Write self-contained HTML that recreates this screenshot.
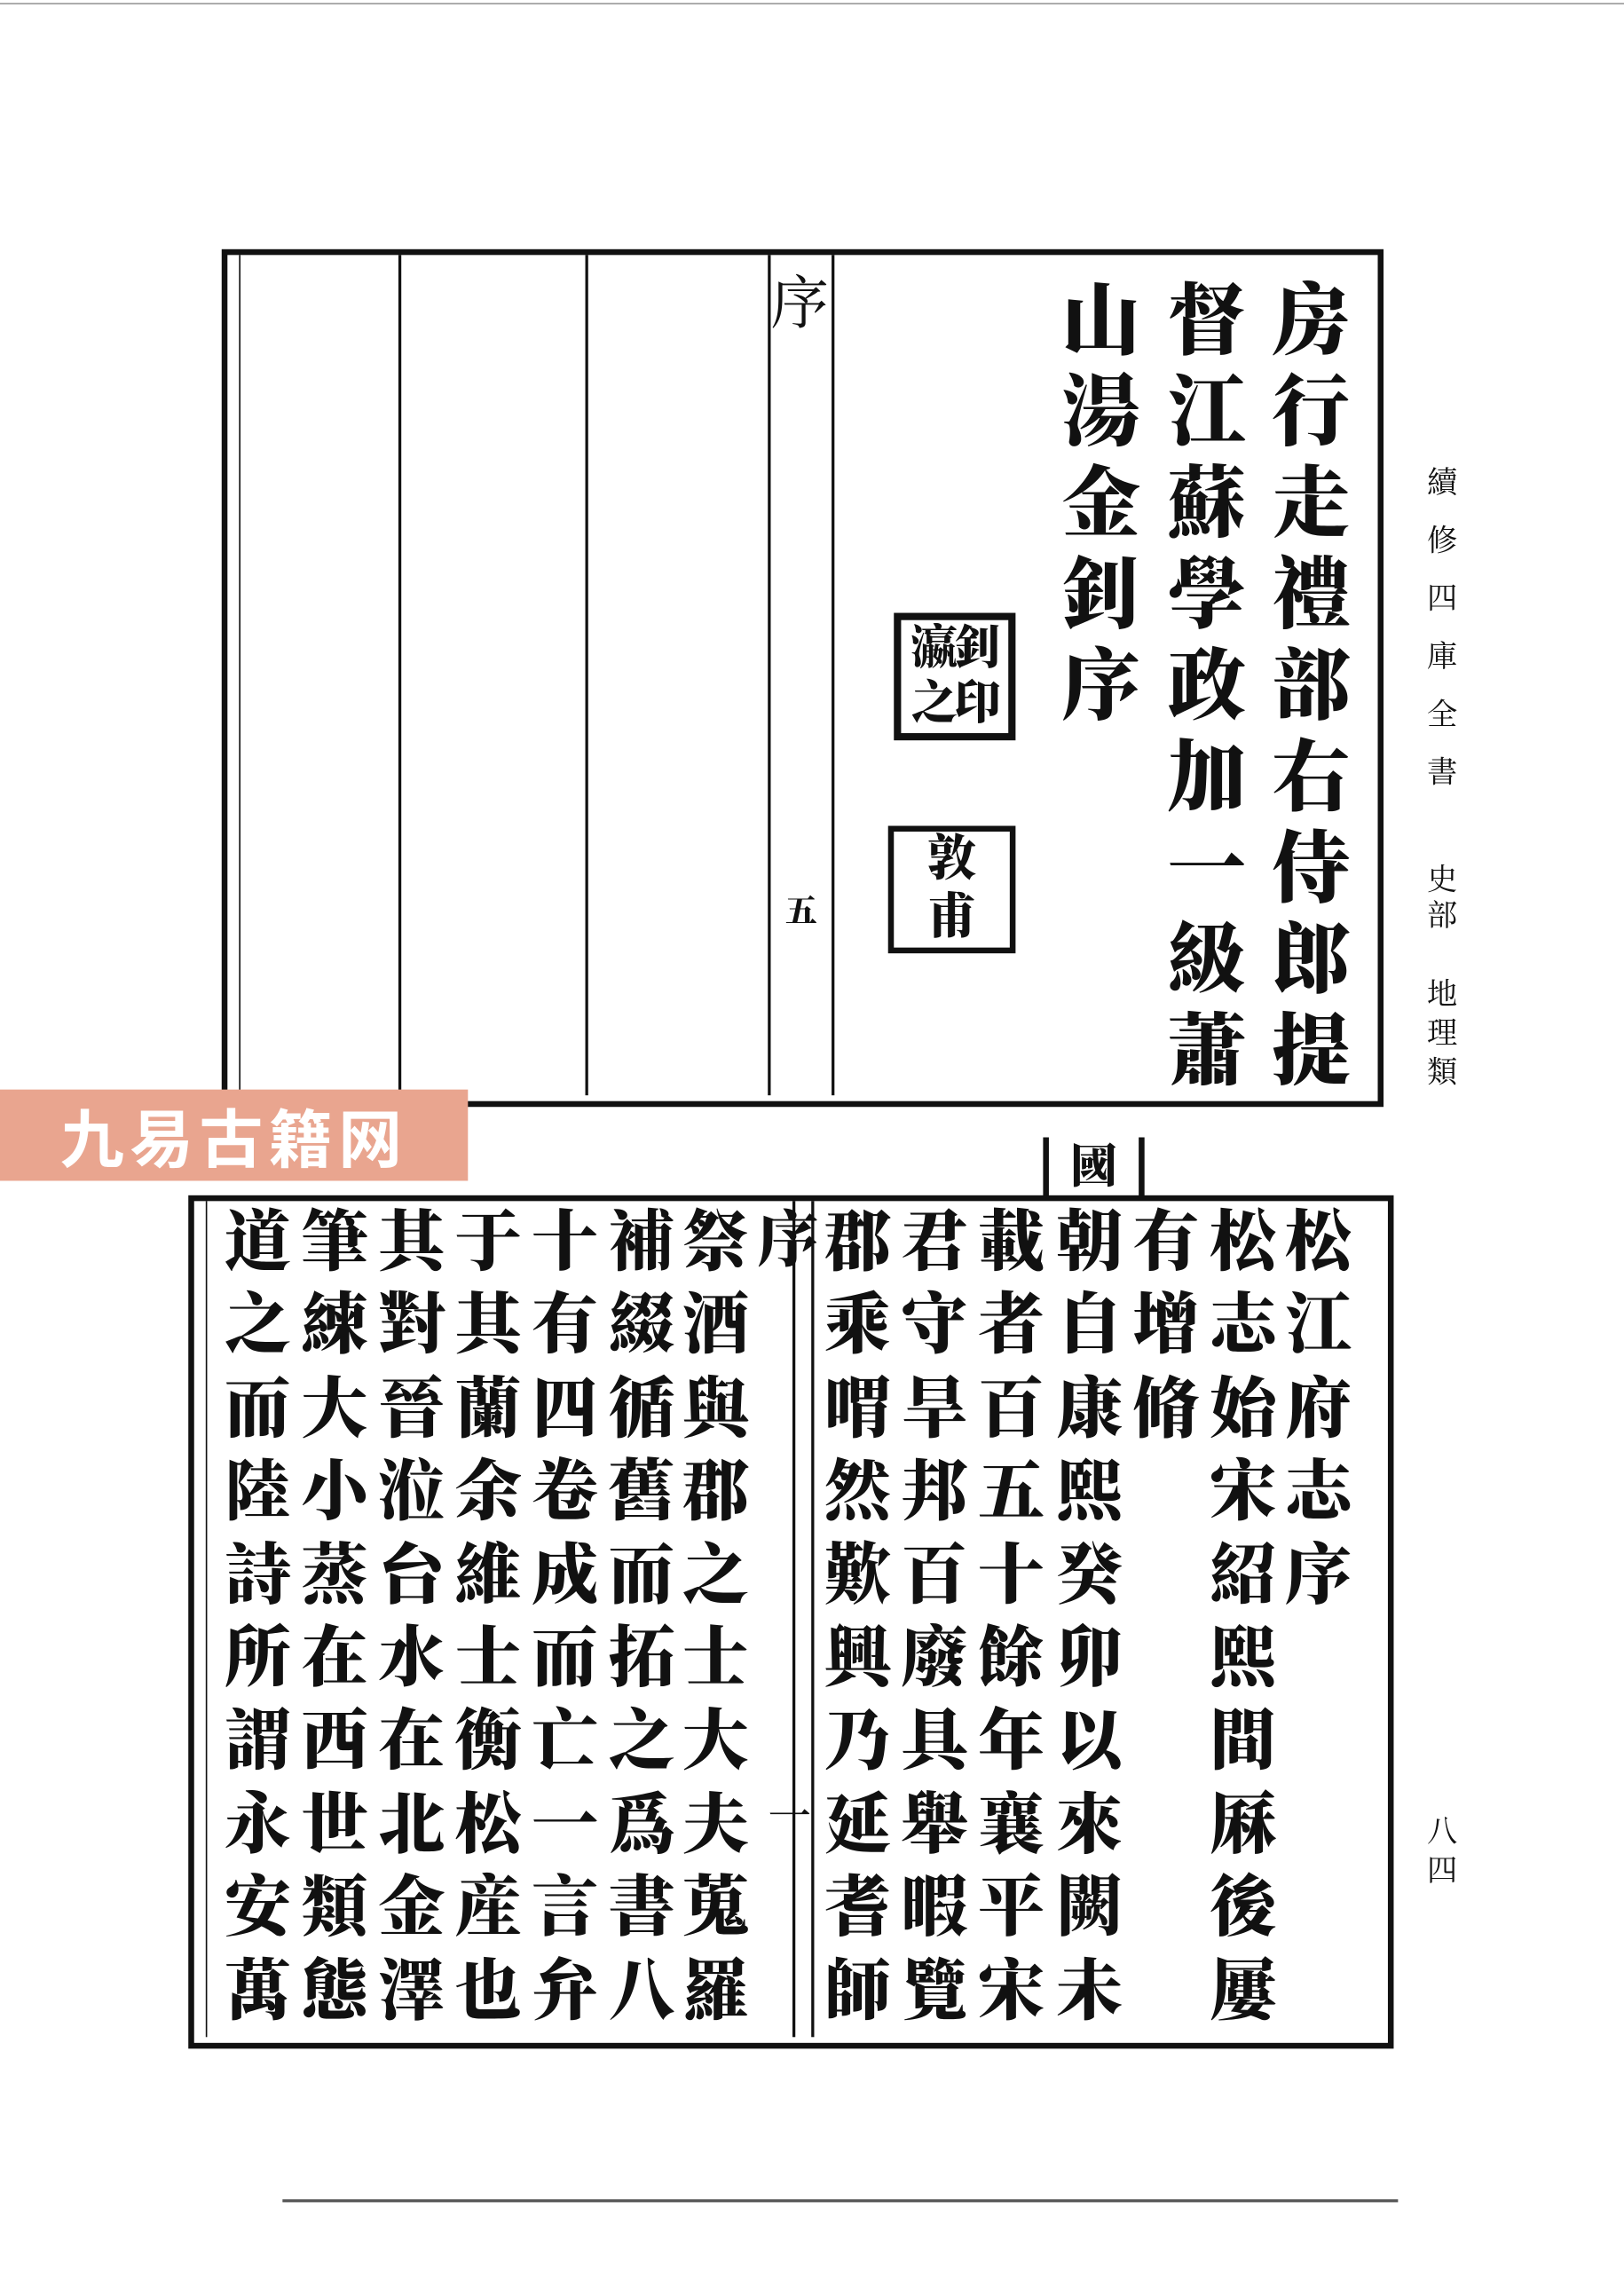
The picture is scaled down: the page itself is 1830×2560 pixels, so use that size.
<!DOCTYPE html>
<html><head><meta charset="utf-8"><style>
html,body{margin:0;padding:0;background:#fff;}
#w{position:relative;width:1121px;height:1568px;transform:scale(1.6325);transform-origin:0 0;overflow:hidden;font-family:"Liberation Serif","Noto Serif CJK SC",serif;color:#111;}
.a{position:absolute;}
.c{position:absolute;font-weight:900;text-align:center;line-height:1;}
.v{position:absolute;background:#111;}
</style></head><body><div id="w">
<div class="a" style="left:0;top:2px;width:1121px;height:1px;background:#999"></div>
<div class="a" style="left:153px;top:172px;width:794px;height:584px;border:4px solid #111;"></div>
<div class="v" style="left:165px;top:176px;width:1px;height:580px"></div>
<div class="v" style="left:275px;top:176px;width:2px;height:580px"></div>
<div class="v" style="left:404px;top:176px;width:2px;height:580px"></div>
<div class="v" style="left:530px;top:176px;width:2px;height:580px"></div>
<div class="v" style="left:574px;top:176px;width:2px;height:580px"></div>
<div class="c" style="left:532px;top:190px;font-size:40px;font-weight:400">序</div>
<div class="c" style="left:542px;top:618px;font-size:22px">五</div>
<div id="u"></div>
<div class="a" style="left:617px;top:423px;width:84px;height:88px;border:5px solid #111;box-sizing:border-box;font-size:32px;font-weight:900;line-height:38px;text-align:center;letter-spacing:-2px">瀛釗<br>之印</div>
<div class="a" style="left:613px;top:570px;width:88px;height:88px;border:4px solid #111;box-sizing:border-box;font-size:34px;font-weight:900;line-height:40px;text-align:center">敦<br>甫</div>
<div class="a" style="left:985px;top:312px;width:24px;font-size:21px;line-height:40px;font-family:'Noto Serif CJK SC',serif">續<br>修<br>四<br>庫<br>全<br>書</div>
<div class="a" style="left:985px;top:594px;width:24px;font-size:21px;line-height:25px;font-family:'Noto Serif CJK SC',serif">史<br>部</div>
<div class="a" style="left:985px;top:672px;width:24px;font-size:21px;line-height:27px;font-family:'Noto Serif CJK SC',serif">地<br>理<br>類</div>
<div class="a" style="left:985px;top:1250px;width:24px;font-size:21px;line-height:27px;font-family:'Noto Serif CJK SC',serif">八<br>四</div>
<div class="a" style="left:0;top:752px;width:323px;height:63px;background:#e9a58f;color:#fff;font-size:44px;line-height:63px;text-align:center;letter-spacing:4px;font-family:'Noto Sans CJK SC',sans-serif;font-weight:700">九易古籍网</div>
<div class="a" style="left:720px;top:785px;width:70px;height:42px;border-left:4px solid #111;border-right:4px solid #111;box-sizing:border-box;text-align:center;font-size:32px;line-height:40px;font-weight:900">國</div>
<div class="a" style="left:130px;top:825px;width:824px;height:581px;border:4px solid #111;"></div>
<div class="v" style="left:142px;top:829px;width:1px;height:577px"></div>
<div class="v" style="left:547px;top:829px;width:2px;height:577px"></div>
<div class="v" style="left:560px;top:829px;width:2px;height:577px"></div>
<div class="c" style="left:522px;top:836px;font-size:42px;width:44px">序</div>
<div class="c" style="left:530px;top:1240px;font-size:30px;width:30px;font-weight:400">一</div>
<div id="l"></div>
<div id="r"></div>
<div class="a" style="left:195px;top:1518px;width:770px;height:2px;background:#555"></div>
</div>
<script>
function put(id,cols,xs,y0,step,fs){var h='';for(var i=0;i<cols.length;i++){var s=cols[i];for(var j=0;j<s.length;j++){if(s[j]==='_')continue;h+='<div class="c" style="left:'+(xs[i]-fs/2)+'px;top:'+(y0+step*j-fs/2)+'px;font-size:'+fs+'px;width:'+fs+'px">'+s[j]+'</div>';}}document.getElementById(id).innerHTML=h;}
put('u',['房行走禮部右侍郎提','督江蘇學政加一級蕭','山湯金釗序'],[905,833,760],222,63,54);
var L=['道之而陸詩所謂永安萬','筆練大小蒸在西世類態','其對晉涖台水在北金澤','于其蘭余維士衡松産也','十有四卷成而亡一言弁','補綴循舊而拓之爲書八','祭酒與郡之士大夫蒐羅'];
put('l',L,[178,231,284,337,390,443,494],858,57.4,46);
var R=['郡乘喟然歎興乃延耆師','君守旱邦百廢具舉暇覽','載者百五十餘年襄平宋','朝自康熙癸卯以來闕未','有增脩','松志始宋紹熙間厤後屢','松江府志序'];
put('r',R,[592,645,698,752,805,858,910],858,57.4,46);
</script>
</body></html>
